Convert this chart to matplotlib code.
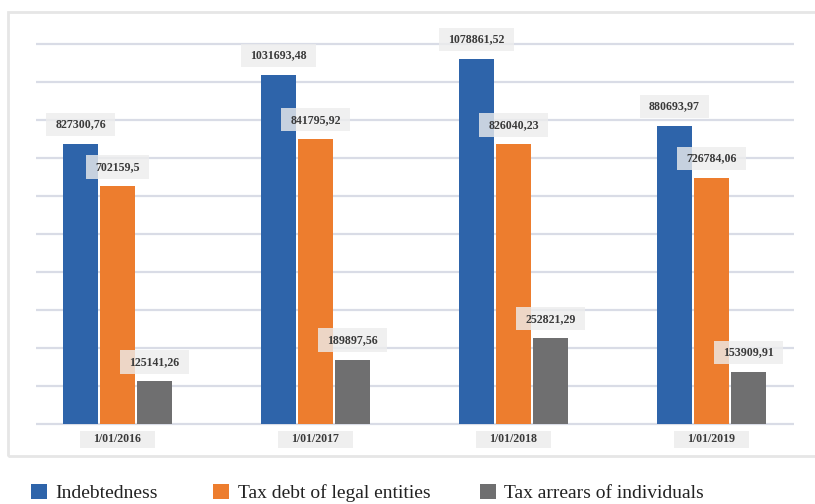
import matplotlib
matplotlib.use("Agg")
import matplotlib.pyplot as plt
from matplotlib.path import Path
from matplotlib.patches import Rectangle
import numpy as np

# ---- data ----
categories = ["1/01/2016", "1/01/2017", "1/01/2018", "1/01/2019"]
series_names = ["Indebtedness", "Tax debt of legal entities", "Tax arrears of individuals"]
indebtedness = [827300.76, 1031693.48, 1078861.52, 880693.97]
legal_entities = [702159.5, 841795.92, 826040.23, 726784.06]
individuals = [125141.26, 189897.56, 252821.29, 153909.91]
value_labels = [
    ["827300,76", "1031693,48", "1078861,52", "880693,97"],
    ["702159,5", "841795,92", "826040,23", "726784,06"],
    ["125141,26", "189897,56", "252821,29", "153909,91"],
]

colors = ["#2e64aa", "#ed7d2e", "#6f6f70"]

W, H = 815, 504
DPI = 100
fig = plt.figure(figsize=(W / DPI, H / DPI), dpi=DPI)
fig.patch.set_facecolor("white")

# outer frame
fig.add_artist(Rectangle((8 / W, 1 - 455.5 / H), 1.05, (455.5 - 11.5) / H,
                         transform=fig.transFigure, fill=False,
                         edgecolor="#e6e6e6", linewidth=2.0, zorder=0))

# axes placement (pixel based)
ymax = 1122300.0
step = ymax / 10
pad_px = 2
px_per_unit = 379.4 / ymax
pad_val = pad_px / px_per_unit
left, right = 35.7, 794.0
y0, ytop = 423.7 + pad_px, 44.3 - pad_px
ax = fig.add_axes([left / W, 1 - y0 / H, (right - left) / W, (y0 - ytop) / H])
ax.set_ylim(-pad_val, ymax + pad_val)
ax.set_xlim(-0.413, 3.417)

for s in ax.spines.values():
    s.set_visible(False)
ax.set_yticks(np.arange(0, 11) * step)
ax.set_yticklabels([])
ax.tick_params(axis="y", length=0)
ax.yaxis.grid(True, color="#d9dce6", linewidth=1.6)
ax.set_axisbelow(True)


def make_box(px, py):
    def box(x0, y0, width, height, mutation_size):
        padx = px * mutation_size
        pady = py * mutation_size
        x0 -= padx
        y0 -= pady
        w = width + 2 * padx
        h = height + 2 * pady
        return Path([(x0, y0), (x0 + w, y0), (x0 + w, y0 + h), (x0, y0 + h), (x0, y0)],
                    closed=True)
    return box


x = np.arange(len(categories))
bw = 35 / 198
off = 37 / 198
all_series = [indebtedness, legal_entities, individuals]
containers = []
label_font = dict(family="Liberation Serif", weight="bold", size=8.6)
for i, (vals, c, name) in enumerate(zip(all_series, colors, series_names)):
    bc = ax.bar(x + (i - 1) * off, vals, width=bw, color=c, label=name, zorder=2)
    containers.append(bc)
    for xi, v, lab in zip(x + (i - 1) * off, vals, value_labels[i]):
        ax.annotate(lab, xy=(xi, v), xytext=(0, 14.0), textcoords="offset points",
                    ha="center", va="center", color="#3a3a3a", zorder=5,
                    bbox=dict(boxstyle=make_box(0.78, 0.47), facecolor="#ededed",
                              edgecolor="none", alpha=0.8),
                    **label_font)

ax.set_xticks(x)
ax.set_xticklabels(categories, color="#3a3a3a", **label_font)
ax.tick_params(axis="x", length=0, pad=5.6)
for t in ax.get_xticklabels():
    t.set_bbox(dict(boxstyle=make_box(1.16, 0.24), facecolor="#efefef", edgecolor="none"))

# legend items
leg_x = [31, 213.3, 480]
for bc, name, lx in zip(containers, series_names, leg_x):
    leg = fig.legend(handles=[bc], labels=[name], loc="center left",
                     bbox_to_anchor=(lx / W, 1 - 493.0 / H), frameon=False,
                     borderpad=0, borderaxespad=0, handlelength=0.8, handleheight=0.8,
                     handletextpad=0.45,
                     prop=dict(family="Liberation Serif", size=14))
    for t in leg.get_texts():
        t.set_color("#222222")

fig.savefig("out.png", dpi=DPI, facecolor="white")
